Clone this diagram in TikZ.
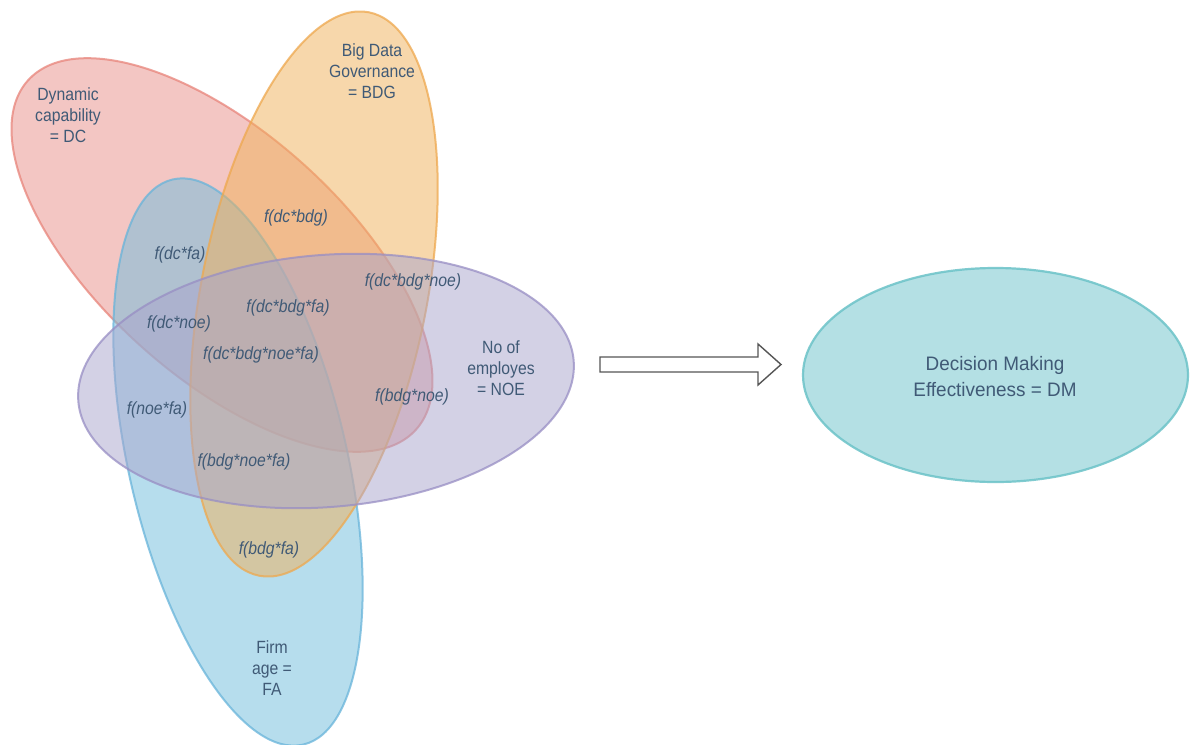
\documentclass[tikz,border=0pt]{standalone}
\usepackage{fontspec}
\setmainfont{Liberation Sans}
\newfontfamily\lblfont{Liberation Sans}[FakeStretch=0.89]
\newfontfamily\dmfont{Liberation Sans}[FakeStretch=0.97]
\usetikzlibrary{shapes.geometric,calc}
\definecolor{txt}{RGB}{64,90,118}
\definecolor{dcF}{RGB}{233,143,137}
\definecolor{dcS}{RGB}{232,132,122}
\definecolor{bdgF}{RGB}{241,177,89}
\definecolor{bdgS}{RGB}{238,168,78}
\definecolor{faF}{RGB}{111,189,221}
\definecolor{faS}{RGB}{104,180,218}
\definecolor{noeF}{RGB}{169,165,205}
\definecolor{noeS}{RGB}{152,142,196}
\definecolor{dmF}{RGB}{180,224,228}
\definecolor{dmS}{RGB}{108,195,200}
\definecolor{arrS}{RGB}{85,85,85}
\begin{document}
\begin{tikzpicture}[x=1pt,y=-1pt,
  vset/.style={ellipse, inner sep=0pt, line width=2pt, fill opacity=0.5, draw opacity=0.75},
  lbl/.style={font=\lblfont\fontsize{17.7}{21.3}\selectfont, text=txt, align=center, inner sep=0pt},
  fx/.style={lbl, font=\lblfont\itshape\fontsize{17.7}{21.3}\selectfont},
  dmtext/.style={font=\dmfont\fontsize{19.5}{26}\selectfont, text=txt, align=center, inner sep=0pt}]
\fill[white] (0,0) rectangle (1190,744);
\useasboundingbox (0,0) rectangle (1190,744);
% sets
\node[vset, draw=dcS, fill=dcF, minimum width=522pt, minimum height=244pt, rotate=-42] (dc) at (222,255) {};
\node[vset, draw=faS, fill=faF, minimum width=218pt, minimum height=580pt, rotate=13] (fa) at (238,462) {};
\node[vset, draw=bdgS, fill=bdgF, minimum width=226pt, minimum height=574pt, rotate=-11] (bdg) at (314,294) {};
\node[vset, draw=noeS, fill=noeF, minimum width=497pt, minimum height=252pt, rotate=4.7] (noe) at (326,381) {};
% outcome
\node[ellipse, inner sep=0pt, line width=2.2pt, draw=dmS, draw opacity=0.85, fill=dmF, minimum width=385pt, minimum height=214pt] (dm) at (995.5,375) {};
\node[dmtext] (dmlbl) at (995,377) {Decision Making\\Effectiveness = DM};
% block arrow
\coordinate (aS) at (600,364.5);
\coordinate (aE) at (781,364.5);
\draw[arrS, line width=1.4pt, line join=miter, fill=white]
  ($(aS)+(0,-7.5)$) -- (758,357) -- (758,344) -- (aE) -- (758,385) -- (758,372) -- ($(aS)+(0,7.5)$) -- cycle;
% set labels
\node[lbl] (ldc) at (68,115) {Dynamic\\capability\\= DC};
\node[lbl] (lbdg) at (372,71) {Big Data\\Governance\\= BDG};
\node[lbl] (lnoe) at (501,368) {No of\\employes\\= NOE};
\node[lbl] (lfa) at (272,668) {Firm\\age =\\FA};
% intersection labels
\node[fx] (i1) at (296,218) {f(dc*bdg)};
\node[fx] (i2) at (180,255) {f(dc*fa)};
\node[fx] (i3) at (413,282) {f(dc*bdg*noe)};
\node[fx] (i4) at (288,308) {f(dc*bdg*fa)};
\node[fx] (i5) at (179,324) {f(dc*noe)};
\node[fx] (i6) at (261,355) {f(dc*bdg*noe*fa)};
\node[fx] (i7) at (412,397) {f(bdg*noe)};
\node[fx] (i8) at (157,410) {f(noe*fa)};
\node[fx] (i9) at (244,462) {f(bdg*noe*fa)};
\node[fx] (i10) at (269,550) {f(bdg*fa)};
\end{tikzpicture}
\end{document}
